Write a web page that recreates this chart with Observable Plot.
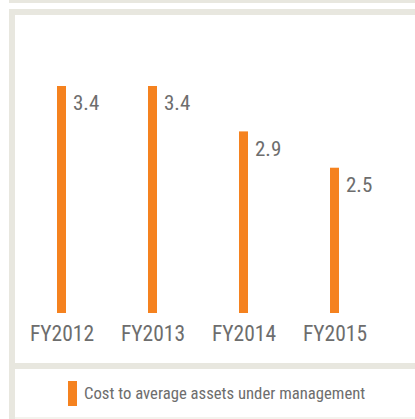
<!DOCTYPE html>
<html>
<head>
<meta charset="utf-8">
<script src="https://cdn.jsdelivr.net/npm/d3@7"></script>
<script src="https://cdn.jsdelivr.net/npm/@observablehq/plot@0.6"></script>
<style>
  html, body { margin: 0; padding: 0; background: #fff; }
  #wrap { position: relative; width: 415px; height: 419px; overflow: hidden; background: #fff;
          font-family: "Liberation Sans Narrow", "Roboto Condensed", "Liberation Sans", sans-serif; }
  .band { position: absolute; background: #e8e7df; }
  #chart { position: absolute; left: 0; top: 0; }
  #legend { position: absolute; left: 68px; top: 381px; display: flex; align-items: center; }
  #legend .sw { width: 9px; height: 25px; background: #f5821f; margin-right: 7px; }
  #legend .lab { font-size: 16.7px; color: #6d6d6d; }
</style>
</head>
<body>
<div id="wrap">
  <div class="band" style="left:9px;top:0;width:406px;height:3px"></div>
  <div class="band" style="left:9px;top:9px;width:406px;height:6px"></div>
  <div class="band" style="left:9px;top:9px;width:6px;height:410px"></div>
  <div class="band" style="left:9px;top:363px;width:406px;height:6px"></div>
  <div class="band" style="left:15px;top:417px;width:400px;height:2px;background:#f4f3ee"></div>
  <div id="chart"></div>
  <div id="legend"><div class="sw"></div><div class="lab">Cost to average assets under management</div></div>
</div>
<script>
const years = ["FY2012", "FY2013", "FY2014", "FY2015"];
const costRatio = [3.4, 3.4, 2.9, 2.5];
const seriesName = "Cost to average assets under management";

const data = years.map((y, i) => ({year: y, value: costRatio[i]}));
const orange = "#f5821f";
const grey = "#6d6d6d";

const chart = Plot.plot({
  width: 415,
  height: 363,
  marginTop: 86,
  marginBottom: 50,
  marginLeft: 16,
  marginRight: 35,
  style: {background: "transparent", fontFamily: "'Liberation Sans Narrow', 'Roboto Condensed', sans-serif", color: grey, overflow: "visible"},
  x: {domain: years, paddingInner: 0.9, paddingOuter: 0.45, label: null},
  y: {domain: [0.9, 3.4], axis: null},
  marks: [
    Plot.barY(data, {x: "year", y: "value", fill: orange, clip: true}),
    Plot.text(data, {x: "year", y: "value", text: d => d.value.toFixed(1), textAnchor: "start", lineAnchor: "top",
                     dx: 11, dy: 9, fontSize: 21, fill: grey}),
    Plot.axisX({tickSize: 0, tickPadding: 12, fontSize: 21.5, fill: grey, label: null})
  ]
});
document.getElementById("chart").appendChild(chart);
</script>
</body>
</html>
